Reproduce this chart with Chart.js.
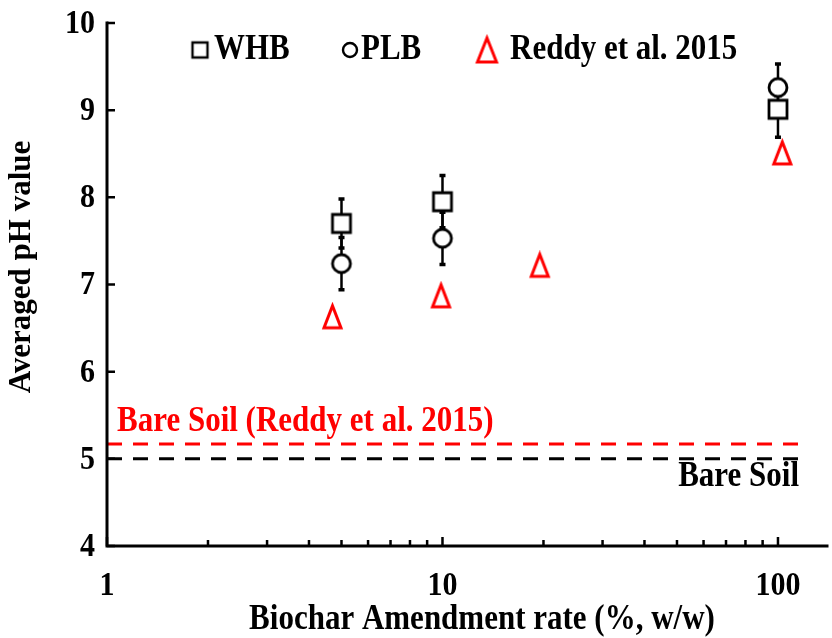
<!DOCTYPE html>
<html>
<head>
<meta charset="utf-8">
<script src="https://cdn.jsdelivr.net/npm/chart.js@4/dist/chart.umd.min.js"></script>
<style>
  html, body { margin: 0; padding: 0; background: #fff; }
  #wrap { width: 832px; height: 638px; }
</style>
</head>
<body>
<div id="wrap"><canvas id="c" width="832" height="638"></canvas></div>
<script>
// Biochar amendment rate (%, w/w) and averaged soil pH
const rates = [5, 10, 100];
const whbPH = [7.70, 7.95, 9.01];
const whbErr = [0.28, 0.30, 0.32];
const plbPH = [7.24, 7.53, 9.26];
const plbErr = [0.30, 0.30, 0.27];
const reddyRates = [4.7, 9.9, 19.5, 103];
const reddyPH = [6.63, 6.87, 7.22, 8.51];
const bareSoilPH = 5.0;
const bareSoilReddyPH = 5.17;
const bareSoilSpan = [1, 115];
const xTicks = [1, 10, 100];
const xMinorTicks = [2, 3, 4, 5, 6, 7, 8, 9, 20, 30, 40, 50, 60, 70, 80, 90];
const yTicks = [4, 5, 6, 7, 8, 9, 10];

const SERIF = '"Liberation Serif", "Times New Roman", serif';
const RED = '#ff0000';
const TALL = 1.15; // vertical stretch applied to horizontal text

function marker(kind, w, h, lw, color) {
  const pad = Math.ceil(lw) + 1;
  const cv = document.createElement('canvas');
  cv.width = w + pad * 2;
  cv.height = h + pad * 2;
  const g = cv.getContext('2d');
  g.lineWidth = lw;
  g.strokeStyle = color;
  g.fillStyle = '#fff';
  g.lineJoin = 'miter';
  g.beginPath();
  if (kind === 'square') {
    g.rect(pad, pad, w, h);
  } else if (kind === 'circle') {
    g.arc(pad + w / 2, pad + h / 2, w / 2, 0, Math.PI * 2);
  } else {
    g.moveTo(pad + w / 2, pad);
    g.lineTo(pad + w, pad + h);
    g.lineTo(pad, pad + h);
    g.closePath();
  }
  g.fill();
  g.stroke();
  return cv;
}

const squareMark = marker('square', 18, 18, 2.8, '#000');
const circleMark = marker('circle', 18, 18, 2.8, '#000');
const triMark = marker('tri', 17, 22, 3, RED);
const squareKey = marker('square', 15, 15, 2.4, '#000');
const circleKey = marker('circle', 14, 14, 2.4, '#000');
const triKey = marker('tri', 19, 24, 3, RED);

const pts = (xs, ys) => xs.map((x, i) => ({ x: x, y: ys[i] }));

function tallText(ctx, text, x, y, size, color, align, baseline) {
  ctx.save();
  ctx.translate(x, y);
  ctx.scale(1, TALL);
  ctx.font = 'bold ' + size + 'px ' + SERIF;
  ctx.fillStyle = color;
  ctx.textAlign = align;
  ctx.textBaseline = baseline;
  ctx.fillText(text, 0, 0);
  ctx.restore();
}

// error bars, drawn beneath the markers
const errorBars = {
  id: 'errorBars',
  beforeDatasetsDraw(chart) {
    const { ctx, scales: { x, y } } = chart;
    ctx.save();
    ctx.strokeStyle = '#000';
    const groups = [[whbPH, whbErr], [plbPH, plbErr]];
    groups.forEach(([vals, errs]) => {
      rates.forEach((r, i) => {
        const px = x.getPixelForValue(r);
        const top = y.getPixelForValue(vals[i] + errs[i]);
        const bot = y.getPixelForValue(vals[i] - errs[i]);
        ctx.lineWidth = 2.5;
        ctx.beginPath();
        ctx.moveTo(px, top);
        ctx.lineTo(px, bot);
        ctx.stroke();
        ctx.lineWidth = 3.5;
        ctx.beginPath();
        ctx.moveTo(px - 3, top); ctx.lineTo(px + 3, top);
        ctx.moveTo(px - 3, bot); ctx.lineTo(px + 3, bot);
        ctx.stroke();
      });
    });
    ctx.restore();
  }
};

// axis frame, inward ticks, tick labels, legend, annotations and axis titles
const frame = {
  id: 'frame',
  afterDraw(chart) {
    const { ctx, chartArea: a, scales: { x, y } } = chart;
    ctx.save();
    ctx.strokeStyle = '#000';
    ctx.lineWidth = 3;
    ctx.lineCap = 'square';
    ctx.beginPath();
    ctx.moveTo(a.left, a.top);
    ctx.lineTo(a.left, a.bottom);
    ctx.lineTo(a.right, a.bottom);
    ctx.stroke();
    ctx.lineCap = 'butt';
    ctx.lineWidth = 2.5;
    ctx.beginPath();
    yTicks.forEach(v => {
      const py = y.getPixelForValue(v);
      ctx.moveTo(a.left, py); ctx.lineTo(a.left + 8, py);
    });
    xTicks.forEach(v => {
      const px = x.getPixelForValue(v);
      ctx.moveTo(px, a.bottom); ctx.lineTo(px, a.bottom - 9);
    });
    xMinorTicks.forEach(v => {
      const px = x.getPixelForValue(v);
      ctx.moveTo(px, a.bottom); ctx.lineTo(px, a.bottom - 6);
    });
    ctx.stroke();
    ctx.restore();

    // tick labels
    y.ticks.forEach(t => {
      tallText(ctx, String(t.value), a.left - 12, y.getPixelForValue(t.value) + 1, 30, '#000', 'right', 'middle');
    });
    x.ticks.forEach(t => {
      tallText(ctx, String(t.value), x.getPixelForValue(t.value), 595, 30, '#000', 'center', 'alphabetic');
    });

    // legend
    const ly = 50;
    ctx.drawImage(squareKey, 200 - squareKey.width / 2, ly - squareKey.height / 2);
    tallText(ctx, 'WHB', 214, ly, 31, '#000', 'left', 'middle');
    ctx.drawImage(circleKey, 350 - circleKey.width / 2, ly - circleKey.height / 2);
    tallText(ctx, 'PLB', 361, ly, 31, '#000', 'left', 'middle');
    ctx.drawImage(triKey, 487 - triKey.width / 2, ly - triKey.height / 2);
    tallText(ctx, 'Reddy et al. 2015', 510, ly, 31, '#000', 'left', 'middle');

    // bare soil labels
    tallText(ctx, 'Bare Soil (Reddy et al. 2015)', 117, 422, 31, RED, 'left', 'middle');
    tallText(ctx, 'Bare Soil', 799, 477, 31, '#000', 'right', 'middle');

    // axis titles
    tallText(ctx, 'Biochar Amendment rate (%, w/w)', 482, 620, 31, '#000', 'center', 'middle');
    ctx.save();
    ctx.translate(22, 267);
    ctx.rotate(-Math.PI / 2);
    ctx.font = 'bold 31px ' + SERIF;
    ctx.fillStyle = '#000';
    ctx.textAlign = 'center';
    ctx.textBaseline = 'middle';
    ctx.fillText('Averaged pH value', 0, 0);
    ctx.restore();
  }
};

new Chart(document.getElementById('c'), {
  data: {
    datasets: [
      {
        type: 'line', label: 'Bare Soil', data: pts(bareSoilSpan, [bareSoilPH, bareSoilPH]),
        borderColor: '#000', borderWidth: 3, borderDash: [15, 11], pointRadius: 0, order: 5
      },
      {
        type: 'line', label: 'Bare Soil (Reddy et al. 2015)', data: pts(bareSoilSpan, [bareSoilReddyPH, bareSoilReddyPH]),
        borderColor: RED, borderWidth: 3, borderDash: [15, 11], pointRadius: 0, order: 5
      },
      {
        type: 'scatter', label: 'Reddy et al. 2015', data: pts(reddyRates, reddyPH),
        pointStyle: triMark, order: 3
      },
      {
        type: 'scatter', label: 'PLB', data: pts(rates, plbPH),
        pointStyle: circleMark, order: 2
      },
      {
        type: 'scatter', label: 'WHB', data: pts(rates, whbPH),
        pointStyle: squareMark, order: 1
      }
    ]
  },
  options: {
    responsive: false,
    animation: false,
    devicePixelRatio: 1,
    layout: { padding: { top: 23, right: 1, left: 0, bottom: 0 } },
    plugins: { legend: { display: false }, tooltip: { enabled: false } },
    scales: {
      x: {
        type: 'logarithmic', min: 1, max: 140,
        grid: { display: false, drawTicks: false },
        border: { display: false },
        afterBuildTicks: s => { s.ticks = xTicks.map(v => ({ value: v })); },
        afterFit: s => { s.height = 92; },
        ticks: { display: false }
      },
      y: {
        type: 'linear', min: 4, max: 10,
        grid: { display: false, drawTicks: false },
        border: { display: false },
        afterBuildTicks: s => { s.ticks = yTicks.map(v => ({ value: v })); },
        afterFit: s => { s.width = 107; },
        ticks: { display: false }
      }
    }
  },
  plugins: [errorBars, frame]
});
</script>
</body>
</html>
